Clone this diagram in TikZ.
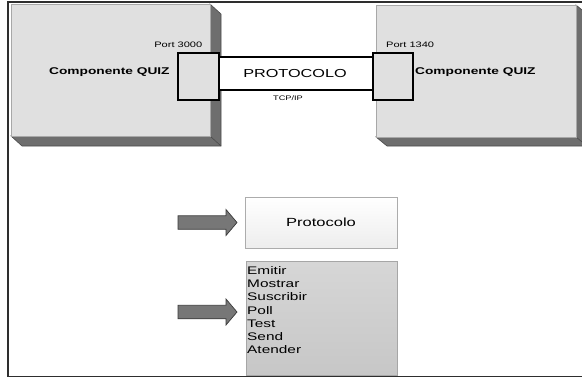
\documentclass[tikz,border=0pt]{standalone}
\usepackage{fontspec}
\setmainfont{Liberation Sans}
% a widened Arial-metric face for all labels
\newfontfamily\wf[FakeStretch=1.4]{Liberation Sans}

\definecolor{facegray}{HTML}{E0E0E0}
\definecolor{faceedge}{HTML}{A8A8A8}
\definecolor{sidegray}{HTML}{6E6E6E}
\definecolor{sideedge}{HTML}{4A4A4A}
\definecolor{arrowgray}{HTML}{777777}
\definecolor{arrowedge}{HTML}{3A3A3A}
\definecolor{frameline}{HTML}{2E2E2E}

\tikzset{
  face/.style={fill=facegray, draw=faceedge, line width=0.6pt, inner sep=0pt, anchor=north west},
  side/.style={fill=sidegray, draw=sideedge, line width=0.6pt},
  portbox/.style={fill=facegray, draw=black, line width=1.8pt, inner sep=0pt, anchor=north west},
  wire/.style={draw=black, line width=1.8pt},
  blockarrow/.style={fill=arrowgray, draw=arrowedge, line width=0.7pt, line join=miter},
  lbl/.style={inner sep=0pt},
}
% block arrow ending at the given tip: 59 long, shaft 13.5 high, head 26 high, 11 long
\newcommand\blockarrowat[1]{%
  \filldraw[blockarrow, shift={(#1)}] (-59,-6.75) -- (-11,-6.75) -- (-11,-13) -- (0,0)
    -- (-11,13) -- (-11,6.75) -- (-59,6.75) -- cycle;}

\begin{document}
\begin{tikzpicture}[x=1pt,y=-1pt]
\useasboundingbox (0,0) rectangle (582,378);

% page frame (its right side lies beyond the page)
\draw[frameline, line width=1.7pt] (584,2) -- (8,2) -- (8,376.5) -- (584,376.5);

% left component: extruded block
\filldraw[side] (210,4) -- (221,14) -- (221,146) -- (22,146) -- (11,136) -- (210,136) -- cycle;
\draw[sideedge, line width=0.6pt] (210,136) -- (221,146);
\node (leftface) [face, minimum width=199pt, minimum height=132pt] at (11,4) {};

% right component: extruded block
\filldraw[side] (576,5) -- (587,14) -- (587,146) -- (387,146) -- (376,137) -- (576,137) -- cycle;
\draw[sideedge, line width=0.6pt] (576,137) -- (587,146);
\node (rightface) [face, minimum width=200pt, minimum height=132pt] at (376,5) {};

% TCP/IP link between the two ports
\node (link) [fill=white, inner sep=0pt, minimum width=154pt, minimum height=33pt,
  font={\wf\fontsize{11.6}{13}\selectfont}] at (295,73.5) {PROTOCOLO};
\draw[wire] (link.north west) -- (link.north east);
\draw[wire] (link.south west) -- (link.south east);

% ports
\node (p1) [portbox, minimum width=41pt, minimum height=47pt] at (177,52) {};
\node (p2) [portbox, minimum width=40pt, minimum height=47pt] at (372,52) {};

% labels
\node (port1) [lbl, anchor=base east, font={\wf\fontsize{7.9}{9}\selectfont}] at (202.5,47.5) {Port 3000};
\node (port2) [lbl, anchor=base west, font={\wf\fontsize{7.9}{9}\selectfont}] at (386,47) {Port 1340};
\node (comp1) [lbl, anchor=base west, font={\wf\bfseries\fontsize{9.8}{11}\selectfont}] at (49,74.5) {Componente QUIZ};
\node (comp2) [lbl, anchor=base west, font={\wf\bfseries\fontsize{9.8}{11}\selectfont}] at (415,74.5) {Componente QUIZ};
\node (tcp) [lbl, anchor=base, font={\wf\fontsize{6.6}{8}\selectfont}] at (288,100) {TCP/IP};

% protocol summary box
\node (proto) [anchor=north west, inner sep=0pt, minimum width=152pt, minimum height=51pt,
  top color=white, bottom color=gray!14, draw=gray!65, line width=0.6pt] at (245,197) {};
\node (protolbl) [lbl, anchor=base, font={\wf\fontsize{11.8}{13}\selectfont}] at (321,226.5) {Protocolo};

% operations box
\node (ops) [anchor=north west, inner sep=0pt, minimum width=151pt, minimum height=114pt,
  top color=gray!32, middle color=gray!17, bottom color=gray!44, draw=gray!70, line width=0.6pt] at (246,261) {};
\node (opslist) [lbl, anchor=north west, align=left, font={\wf\fontsize{11}{13.3}\selectfont}] at (247,266)
  {Emitir\\Mostrar\\Suscribir\\Poll\\Test\\Send\\Atender};

% pointer arrows
\coordinate (tip1) at (237,222.5);
\coordinate (tip2) at (237,312);
\blockarrowat{tip1}
\blockarrowat{tip2}
\end{tikzpicture}
\end{document}
